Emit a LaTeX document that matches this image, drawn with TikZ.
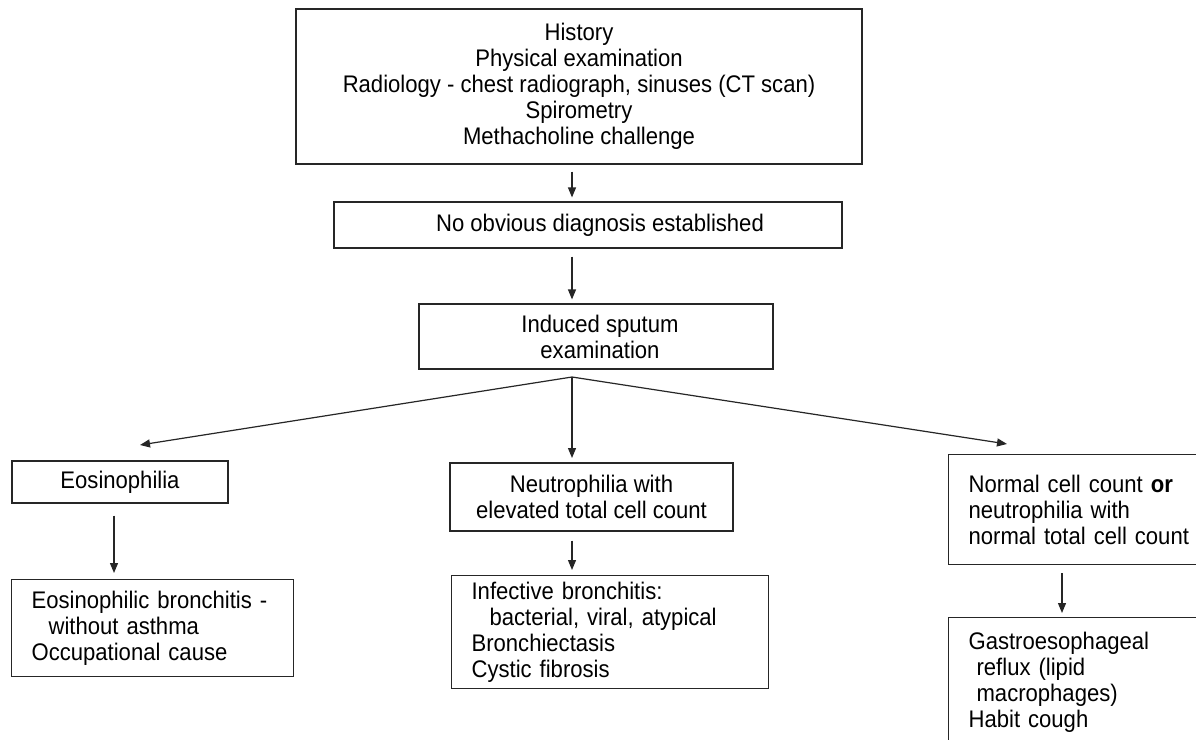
\documentclass[tikz,border=0pt]{standalone}
\usepackage{fontspec}
\setmainfont{Liberation Sans}[FakeStretch=0.92]
\usetikzlibrary{arrows.meta}

\tikzset{
  box/.style={draw=black!85, line width=0.6pt, align=center, inner sep=0pt,
    font=\fontsize{12pt}{13pt}\selectfont},
  listbox/.style={box, align=left, anchor=north west, inner xsep=10pt},
  arr/.style={draw=black!85, line width=0.6pt, -{Triangle[length=5pt,width=4pt]}}
}

\begin{document}
\begin{tikzpicture}[x=0.5pt, y=-0.5pt]
    % Page frame
    \clip (0,0) rectangle (1196,740);
    \fill[white] (0,0) rectangle (1196,740);

    % Columns of the vertical arrows
    \coordinate (trunk) at (572,0);
    \coordinate (eoscol) at (114,0);
    \coordinate (normcol) at (1062,0);

    % First work-up
    \node[box, minimum width=283pt, minimum height=77.5pt] (workup) at (579,86.5)
        {History\\Physical examination\\Radiology - chest radiograph, sinuses (CT scan)\\Spirometry\\Methacholine challenge};

    % No diagnosis
    \node[box, minimum width=254pt, minimum height=23pt] (nodiag) at (588,225)
        {\hspace*{12pt}No obvious diagnosis established};

    % Sputum
    \node[box, minimum width=177pt, minimum height=32.5pt] (sputum) at (596,336.5)
        {\hspace*{4pt}Induced sputum\\\hspace*{4pt}examination};

    % Three results
    \node[box, minimum width=108pt, minimum height=21pt] (eos) at (120,482)
        {Eosinophilia};
    \node[box, minimum width=141.5pt, minimum height=34pt] (neut) at (591.5,497)
        {Neutrophilia with\\elevated total cell count};
    \node[listbox, text width=120pt, minimum height=55pt] (normal) at (948,454)
        {Normal cell count \textbf{or}\\neutrophilia with\\normal total cell count};

    % Causes
    \node[listbox, text width=121pt, minimum height=48.5pt] (eoscause) at (11,579)
        {Eosinophilic bronchitis -\\\hspace*{8.5pt}without asthma\\Occupational cause};
    \node[listbox, text width=138.5pt, minimum height=56.5pt] (neutcause) at (451,575)
        {Infective bronchitis:\\\hspace*{9pt}bacterial, viral, atypical\\Bronchiectasis\\Cystic fibrosis};
    \node[listbox, text width=120pt, minimum height=64.5pt] (normcause) at (948,617)
        {Gastroesophageal\\\hspace*{4pt}reflux (lipid\\\hspace*{4pt}macrophages)\\Habit cough};

    % Main line
    \draw[arr] ([yshift=-3.5pt]workup.south -| trunk) -- ([yshift=2pt]nodiag.north -| trunk);
    \draw[arr] ([yshift=-4pt]nodiag.south -| trunk) -- ([yshift=2pt]sputum.north -| trunk);

    % Split into three
    \coordinate (split) at (572,377);
    \coordinate (lefttip) at (140,445);
    \coordinate (midtip) at (572,458);
    \coordinate (righttip) at (1007,444);
    \draw[arr] (split) -- (lefttip);
    \draw[arr] (split) -- (midtip);
    \draw[arr] (split) -- (righttip);

    % Down to the causes
    \draw[arr] ([yshift=-6pt]eos.south -| eoscol) -- ([yshift=3pt]eoscause.north -| eoscol);
    \draw[arr] ([yshift=-4.5pt]neut.south -| trunk) -- ([yshift=2.5pt]neutcause.north -| trunk);
    \draw[arr] ([yshift=-4pt]normal.south -| normcol) -- ([yshift=2pt]normcause.north -| normcol);
\end{tikzpicture}
\end{document}
